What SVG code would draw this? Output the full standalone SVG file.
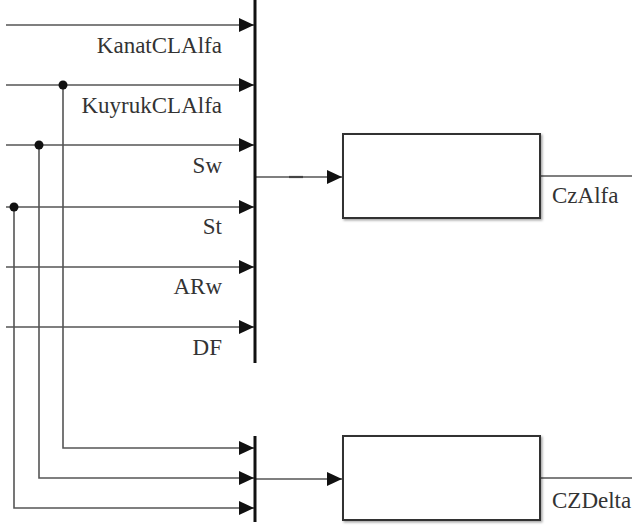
<svg xmlns="http://www.w3.org/2000/svg" width="632" height="527" viewBox="0 0 632 527">
<style>
.ln{fill:none;stroke:#555;stroke-width:1.6}
.bar{stroke:#111;stroke-width:3}
.box{fill:#fff;stroke:#333;stroke-width:2}
.lbl{font-family:"Liberation Serif","DejaVu Serif",serif;font-size:23px;fill:#333}
.dot{fill:#111}
</style>
<defs>
<marker id="ah" markerUnits="userSpaceOnUse" markerWidth="16" markerHeight="14" refX="15" refY="7" orient="auto">
<path d="M0,0 L15,7 L0,14 Z" fill="#111"/>
</marker>
<filter id="sh" x="-5%" y="-5%" width="115%" height="120%">
<feDropShadow dx="1.5" dy="1.5" stdDeviation="1" flood-color="#000" flood-opacity="0.35"/>
</filter>
</defs>
<rect width="632" height="527" fill="#fff"/>
<g id="connectors">
<line class="ln" x1="6" y1="25" x2="254" y2="25" marker-end="url(#ah)"/>
<line class="ln" x1="6" y1="85" x2="254" y2="85" marker-end="url(#ah)"/>
<line class="ln" x1="6" y1="145" x2="254" y2="145" marker-end="url(#ah)"/>
<line class="ln" x1="6" y1="207" x2="254" y2="207" marker-end="url(#ah)"/>
<line class="ln" x1="6" y1="267" x2="254" y2="267" marker-end="url(#ah)"/>
<line class="ln" x1="6" y1="327" x2="254" y2="327" marker-end="url(#ah)"/>
<polyline class="ln" points="63,85 63,448 254,448" marker-end="url(#ah)"/>
<polyline class="ln" points="39,145 39,478 254,478" marker-end="url(#ah)"/>
<polyline class="ln" points="14,207 14,508 254,508" marker-end="url(#ah)"/>
<line class="ln" x1="255" y1="177" x2="342" y2="177" marker-end="url(#ah)"/>
<line x1="289" y1="177" x2="303" y2="177" stroke="#444" stroke-width="2.2"/>
<line class="ln" x1="255" y1="479" x2="342" y2="479" marker-end="url(#ah)"/>
<line class="ln" x1="540" y1="176" x2="632" y2="176"/>
<line class="ln" x1="540" y1="478" x2="632" y2="478"/>
<circle class="dot" cx="63" cy="85" r="4.5"/>
<circle class="dot" cx="39" cy="145" r="4.5"/>
<circle class="dot" cx="14" cy="207" r="4.5"/>
</g>
<g id="mux1">
<line class="bar" x1="255" y1="0" x2="255" y2="363"/>
<text class="lbl" x="222" y="53" text-anchor="end">KanatCLAlfa</text>
<text class="lbl" x="222" y="113" text-anchor="end">KuyrukCLAlfa</text>
<text class="lbl" x="222" y="173" text-anchor="end">Sw</text>
<text class="lbl" x="222" y="234" text-anchor="end">St</text>
<text class="lbl" x="222" y="294" text-anchor="end">ARw</text>
<text class="lbl" x="222" y="355" text-anchor="end">DF</text>
</g>
<g id="mux2">
<line class="bar" x1="255" y1="436" x2="255" y2="522"/>
</g>
<g id="block1">
<rect class="box" x="343" y="134" width="197" height="84" filter="url(#sh)"/>
<text class="lbl" x="552" y="203">CzAlfa</text>
</g>
<g id="block2">
<rect class="box" x="343" y="436" width="197" height="84" filter="url(#sh)"/>
<text class="lbl" x="552" y="508">CZDelta</text>
</g>
</svg>
